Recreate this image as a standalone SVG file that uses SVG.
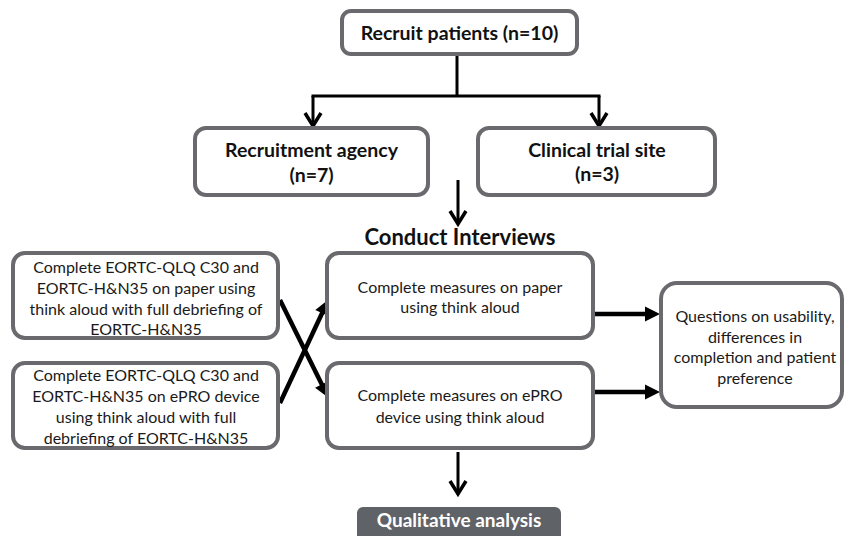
<svg xmlns="http://www.w3.org/2000/svg" width="845" height="536" viewBox="0 0 845 536">
  <defs>
    <style>
      .box { fill: #ffffff; stroke: #6a6a6e; stroke-width: 4; }
      .dark { fill: #5f6266; stroke: #5f6266; stroke-width: 2; }
      .t { font-family: Lato, "Open Sans", "DejaVu Sans", sans-serif; font-size: 16px; fill: #1a1a1a; text-anchor: middle; }
      .b { font-family: Lato, "Open Sans", "DejaVu Sans", sans-serif; font-size: 19.5px; font-weight: bold; fill: #111111; text-anchor: middle; }
      .w { font-family: Lato, "Open Sans", "DejaVu Sans", sans-serif; font-size: 19px; font-weight: bold; fill: #ffffff; text-anchor: middle; }
      .thin { fill: none; stroke: #000000; stroke-width: 3; }
      .thick { fill: none; stroke: #000000; stroke-width: 4.5; }
    </style>
    <marker id="chev" markerUnits="userSpaceOnUse" viewBox="-16 -10 20 20" refX="0" refY="0" markerWidth="20" markerHeight="20" orient="auto" overflow="visible">
      <path d="M-13,-8 L0,0 L-13,8" fill="none" stroke="#000000" stroke-width="3.5" stroke-linejoin="miter"/>
    </marker>
    <marker id="tri" markerUnits="userSpaceOnUse" viewBox="-6 -9 18 18" refX="0" refY="0" markerWidth="18" markerHeight="18" orient="auto" overflow="visible">
      <path d="M-4,-7.5 L11,0 L-4,7.5 Z" fill="#000000"/>
    </marker>
  </defs>

  <g id="connectors">
    <path class="thin" d="M457,54 V96"/>
    <path class="thin" d="M311.5,96 H600.5"/>
    <path class="thin" d="M313,96 V126" marker-end="url(#chev)"/>
    <path class="thin" d="M599,96 V126" marker-end="url(#chev)"/>
    <path class="thin" d="M458,180 V224" marker-end="url(#chev)"/>
    <path class="thick" d="M280,300 L323.6,388" marker-end="url(#tri)"/>
    <path class="thick" d="M280,403 L323.8,309.5" marker-end="url(#tri)"/>
    <path class="thick" d="M595,314 H649" marker-end="url(#tri)"/>
    <path class="thick" d="M595,392 H649" marker-end="url(#tri)"/>
    <path class="thin" d="M458,452 V494" marker-end="url(#chev)"/>
  </g>

  <g id="recruit">
    <rect class="box" x="342" y="11" width="235" height="43" rx="9"/>
    <text class="b" x="459.5" y="39.5">Recruit patients (n=10)</text>
  </g>

  <g id="agency">
    <rect class="box" x="195" y="128" width="233" height="67" rx="11"/>
    <text class="b" x="311.5" y="157">Recruitment agency</text>
    <text class="b" x="311.5" y="182">(n=7)</text>
  </g>

  <g id="site">
    <rect class="box" x="478" y="128" width="237" height="67" rx="11"/>
    <text class="b" x="597" y="157">Clinical trial site</text>
    <text class="b" x="597" y="181">(n=3)</text>
  </g>

  <g id="conduct">
    <text class="b" x="460" y="245" style="font-size:22px">Conduct Interviews</text>
  </g>

  <g id="paper-left">
    <rect class="box" x="13" y="253" width="265" height="85" rx="12"/>
    <text class="t" x="146" y="272.5">Complete EORTC-QLQ C30 and</text>
    <text class="t" x="146" y="293.5">EORTC-H&amp;N35 on paper using</text>
    <text class="t" x="146" y="314.5">think aloud with full debriefing of</text>
    <text class="t" x="146" y="334.5">EORTC-H&amp;N35</text>
  </g>

  <g id="epro-left">
    <rect class="box" x="13" y="363" width="265" height="85" rx="12"/>
    <text class="t" x="146" y="380.5">Complete EORTC-QLQ C30 and</text>
    <text class="t" x="146" y="401.5">EORTC-H&amp;N35 on ePRO device</text>
    <text class="t" x="146" y="422.5">using think aloud with full</text>
    <text class="t" x="146" y="443.5">debriefing of EORTC-H&amp;N35</text>
  </g>

  <g id="paper-mid">
    <rect class="box" x="327" y="253" width="266" height="85" rx="12"/>
    <text class="t" x="460" y="292.5">Complete measures on paper</text>
    <text class="t" x="460" y="312.5">using think aloud</text>
  </g>

  <g id="epro-mid">
    <rect class="box" x="327" y="363" width="266" height="85" rx="12"/>
    <text class="t" x="460" y="400.5">Complete measures on ePRO</text>
    <text class="t" x="460" y="422.5">device using think aloud</text>
  </g>

  <g id="questions">
    <rect class="box" x="661" y="283" width="181" height="124" rx="16"/>
    <text class="t" x="755" y="321.5">Questions on usability,</text>
    <text class="t" x="755" y="342.5">differences in</text>
    <text class="t" x="755" y="362.5">completion and patient</text>
    <text class="t" x="755" y="383.5">preference</text>
  </g>

  <g id="analysis">
    <rect class="dark" x="358" y="508" width="202" height="34" rx="5"/>
    <text class="w" x="459" y="526.5">Qualitative analysis</text>
  </g>
</svg>
